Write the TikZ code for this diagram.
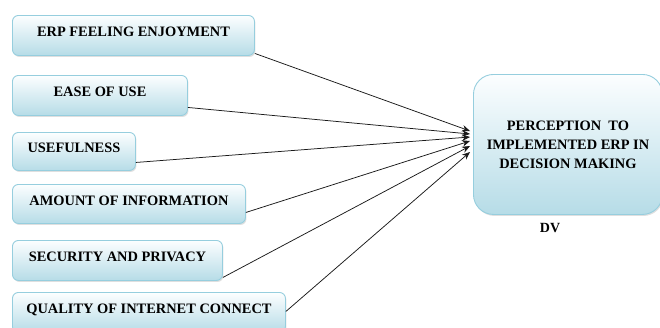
\documentclass[tikz,border=0pt]{standalone}
\usepackage{fontspec}
\setmainfont{Liberation Serif}
\usetikzlibrary{arrows.meta,shadows,calc}
\definecolor{boxtop}{RGB}{252,254,255}
\definecolor{boxbot}{RGB}{182,220,231}
\definecolor{boxline}{RGB}{150,206,222}
\tikzset{
  ivbox/.style={draw=boxline, line width=0.9pt, rounded corners=6pt,
    top color=boxtop, bottom color=boxbot, anchor=north west,
    minimum height=40pt, inner sep=0pt,
    font=\fontsize{14.4}{17}\selectfont\bfseries,
    drop shadow={shadow xshift=1pt, shadow yshift=-1.5pt, opacity=0.25}},
  dvbox/.style={draw=boxline, line width=0.9pt, rounded corners=20pt,
    top color=boxtop, bottom color=boxbot, anchor=north west,
    minimum width=189pt, minimum height=140pt, inner sep=0pt, align=center,
    font=\fontsize{14.4}{19}\selectfont\bfseries,
    drop shadow={shadow xshift=1pt, shadow yshift=-1.5pt, opacity=0.25}},
  conn/.style={draw=black!90, line width=0.75pt, -{Stealth[length=8pt,width=6.5pt]}}
}
\newcommand{\up}[1]{\raisebox{6.5pt}{#1}}
\begin{document}
\begin{tikzpicture}[x=1pt,y=-1pt]
\useasboundingbox (0,0) rectangle (660,327);
\begin{scope}
\clip (0,0) rectangle (660,327);
\node[ivbox, minimum width=242pt] (b1) at (12,15) {\up{ERP FEELING ENJOYMENT}};
\node[ivbox, minimum width=175pt] (b2) at (12,75) {\up{EASE OF USE}};
\node[ivbox, minimum width=123pt, minimum height=38pt] (b3) at (12,132) {\up{USEFULNESS}};
\node[ivbox, minimum width=233pt, minimum height=39pt] (b4) at (12,184) {\up{AMOUNT OF INFORMATION}};
\node[ivbox, minimum width=210pt] (b5) at (12,240) {\up{SECURITY AND PRIVACY}};
\node[ivbox, minimum width=273pt] (b6) at (12,292) {\up{QUALITY OF INTERNET CONNECT}};
\node[dvbox] (dv) at (473,74) {PERCEPTION\ \ TO\\IMPLEMENTED ERP IN\\DECISION MAKING};
\end{scope}
\node[font=\fontsize{14}{16}\selectfont\bfseries] (dvl) at (550,228) {DV};
\coordinate (t1) at (470,131);
\coordinate (t2) at (470,134);
\coordinate (t3) at (470,137);
\coordinate (t4) at (470,141);
\coordinate (t5) at (470,146);
\coordinate (t6) at (470,152);
\draw[conn] ([yshift=-18pt]b1.east) -- (t1);
\draw[conn] ([yshift=-12pt]b2.east) -- (t2);
\draw[conn] ([yshift=-11pt]b3.east) -- (t3);
\draw[conn] ([yshift=-8.5pt]b4.east) -- (t4);
\draw[conn] ([yshift=-17pt]b5.east) -- (t5);
\draw[conn] ([yshift=1pt]b6.east) -- (t6);
\end{tikzpicture}
\end{document}
